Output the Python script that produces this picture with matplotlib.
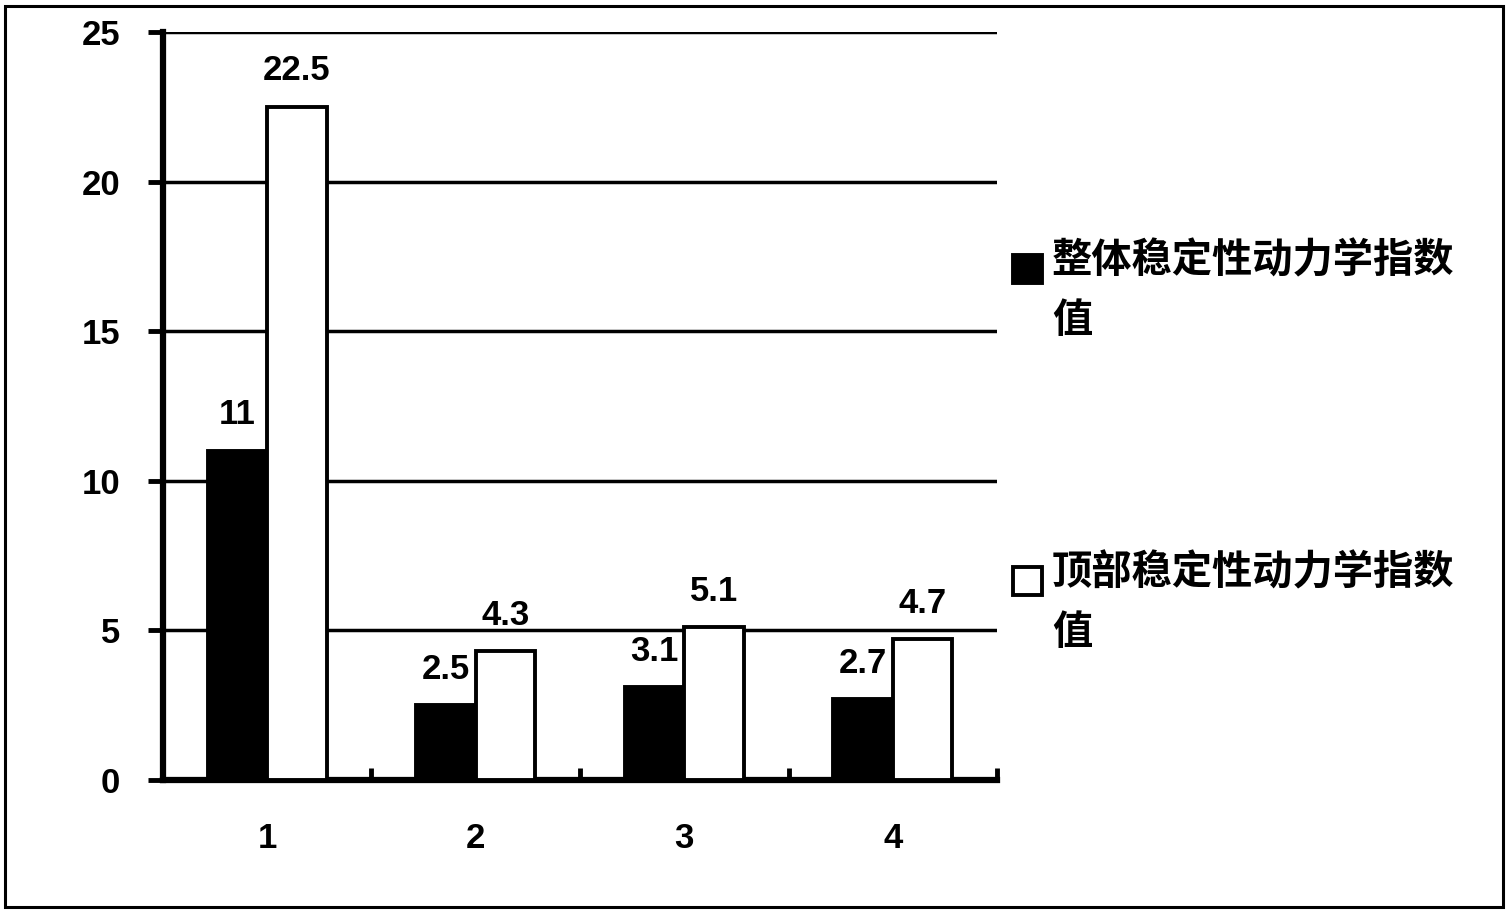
import numpy as np
import matplotlib
matplotlib.use('Agg')
import matplotlib.pyplot as plt
from matplotlib.patches import Rectangle

# data
categories = ['1', '2', '3', '4']
overall_vals = [11, 2.5, 3.1, 2.7]      # 整体稳定性动力学指数值
top_vals = [22.5, 4.3, 5.1, 4.7]        # 顶部稳定性动力学指数值
series_labels = ['整体稳定性动力学指数\n值', '顶部稳定性动力学指数\n值']
series_colors = ['black', 'white']
y_ticks = [0, 5, 10, 15, 20, 25]

plt.rcParams['font.family'] = ['Liberation Sans', 'Noto Sans CJK SC', 'DejaVu Sans']
plt.rcParams['font.weight'] = 'bold'

fig = plt.figure(figsize=(15.12, 9.13), dpi=100)
ax = fig.add_axes([0.1078, 0.14567, 0.5516, 0.81928])

x = np.arange(1, len(categories) + 1)
w = 0.285
b1 = ax.bar(x - w / 2, overall_vals, w, color=series_colors[0], edgecolor='black',
            linewidth=2.8, zorder=3)
b2 = ax.bar(x + w / 2, top_vals, w, color=series_colors[1], edgecolor='black',
            linewidth=2.8, zorder=3)

for bars in (b1, b2):
    ax.bar_label(bars, fmt='%g', padding=14, fontsize=25, fontweight='bold')

ax.set_xlim(0.5, len(categories) + 0.5)
ax.set_ylim(0, 25)
ax.yaxis.grid(True, color='black', linewidth=2.5)
ax.set_axisbelow(True)

for s in ['top', 'right']:
    ax.spines[s].set_visible(False)
for s in ['left', 'bottom']:
    ax.spines[s].set_linewidth(4.5)

ax.set_yticks(y_ticks)
ax.tick_params(axis='y', length=11, width=3.5, pad=20, labelsize=25)
ax.set_xticks(x, categories)
ax.tick_params(axis='x', which='major', length=0, pad=30, labelsize=25)
ax.set_xticks(np.arange(0.5, len(categories) + 1, 1), minor=True)
ax.tick_params(axis='x', which='minor', direction='in', length=9, width=3.5)

# legend drawn by hand (square + two-line label)
leg_tops = [240, 552]
for lab, col, ytop in zip(series_labels, series_colors, leg_tops):
    sq_y = ytop + 15
    fig.patches.append(Rectangle((1013 / 1512, 1 - (sq_y + 28) / 913), 29 / 1512, 28 / 913,
                                 transform=fig.transFigure, facecolor=col,
                                 edgecolor='black', linewidth=2.8))
    fig.text(1052 / 1512, 1 - ytop / 913, lab, ha='left', va='top', fontsize=29,
             fontweight='bold', linespacing=1.6,
             family=['Noto Sans CJK SC', 'DejaVu Sans'])

# frame round the whole picture
fig.patches.append(Rectangle((5 / 1512, 6 / 913), 1498 / 1512, 901 / 913,
                             transform=fig.transFigure, fill=False,
                             edgecolor='black', linewidth=2.2))

fig.savefig('out.png', dpi=100)
